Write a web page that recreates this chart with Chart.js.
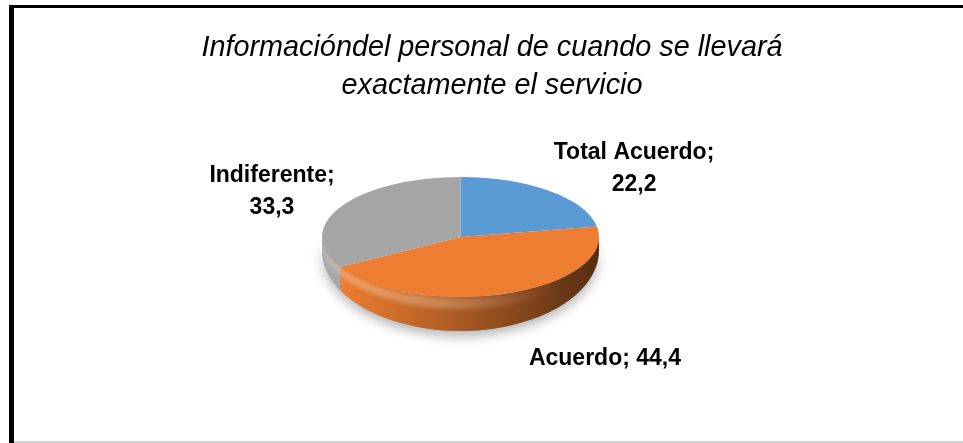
<!DOCTYPE html>
<html>
<head>
<meta charset="utf-8">
<script src="https://cdn.jsdelivr.net/npm/chart.js@4.4.0/dist/chart.umd.min.js"></script>
<style>
  html, body { margin: 0; padding: 0; background: #fff; }
  #wrap { width: 963px; height: 443px; position: relative; }
</style>
</head>
<body>
<div id="wrap"><canvas id="chart-pie" width="963" height="443"></canvas></div>
<script>
// datos del grafico
const tituloLineas = ["Informacióndel personal de cuando se llevará", "exactamente el servicio"];
const categorias = ["Total Acuerdo", "Acuerdo", "Indiferente"];
const valores = [22.2, 44.4, 33.3];

const colores = ["#5b9bd5", "#ed7d31", "#a5a5a5"];

function shade(hex, f) {
  let n = parseInt(hex.slice(1), 16);
  let r = n >> 16, g = (n >> 8) & 255, b = n & 255;
  const c = v => Math.max(0, Math.min(255, Math.round(v * f)));
  return `rgb(${c(r)}, ${c(g)}, ${c(b)})`;
}

// contorno del lado visible entre los angulos a y b
function ladoPath(ctx, x, y, r, ry, d0, d1, a, b) {
  ctx.beginPath();
  ctx.ellipse(x, y, r, ry, 0, a, b);
  ctx.ellipse(x, y + d0, r, ry + d1, 0, b, a, true);
  ctx.closePath();
}

/*
  ==================================================
  ============ PLUGIN: pastel en 3D ================
  ==================================================
*/
const pie3d = {
  id: 'pie3d',
  beforeDraw(chart) {
    const { ctx, width, height } = chart;
    ctx.save();
    ctx.fillStyle = '#fff';
    ctx.fillRect(0, 0, width, height);
    // marco
    ctx.fillStyle = '#000';
    ctx.fillRect(9, 5, 5, height - 5);
    ctx.fillRect(9, 5, width - 9, 3);
    ctx.fillStyle = '#d4d4d4';
    ctx.fillRect(14, height - 2, width - 14, 2);
    ctx.restore();
  },
  beforeDatasetsDraw(chart, args, opts) {
    const { ctx } = chart;
    const arcs = chart.getDatasetMeta(0).data;
    const { x, y, outerRadius: r } = arcs[0];
    const ry = r * opts.squash;
    const { depthSide: d0, depthFront: d1 } = opts;
    const fondo = chart.data.datasets[0].backgroundColor;

    // sombra
    ctx.save();
    ctx.shadowColor = 'rgba(0, 0, 0, 0.3)';
    ctx.shadowBlur = 12;
    ctx.shadowOffsetY = 5;
    ladoPath(ctx, x, y, r, ry, d0, d1, 0, Math.PI);
    ctx.fillStyle = '#888';
    ctx.fill();
    ctx.restore();

    // lados
    ctx.save();
    arcs.forEach((arc, i) => {
      const a = Math.max(arc.startAngle, 0), b = Math.min(arc.endAngle, Math.PI);
      if (b <= a) return;
      const grad = ctx.createLinearGradient(x - r, 0, x + r, 0);
      grad.addColorStop(0, shade(fondo[i], 1.05));
      grad.addColorStop(0.4, shade(fondo[i], 0.78));
      grad.addColorStop(1, shade(fondo[i], 0.36));
      ladoPath(ctx, x, y, r, ry, d0, d1, a, b);
      ctx.fillStyle = grad;
      ctx.fill();
    });

    // bisel claro junto al borde
    ladoPath(ctx, x, y, r, ry, d0, d1, 0, Math.PI);
    ctx.clip();
    const brillo = ctx.createLinearGradient(x - r, 0, x + r, 0);
    brillo.addColorStop(0, 'rgba(255, 225, 195, 0.4)');
    brillo.addColorStop(0.45, 'rgba(255, 225, 195, 0.28)');
    brillo.addColorStop(0.85, 'rgba(255, 225, 195, 0)');
    ctx.filter = 'blur(2px)';
    ladoPath(ctx, x, y + 1, r, ry, 3, 8, 0.05, Math.PI - 0.05);
    ctx.fillStyle = brillo;
    ctx.fill();
    ctx.filter = 'none';
    ctx.restore();

    // cara superior aplastada
    ctx.save();
    ctx.translate(x, y);
    ctx.scale(1, opts.squash);
    ctx.translate(-x, -y);
  },
  afterDatasetsDraw(chart) {
    chart.ctx.restore();
  },
  afterDraw(chart, args, opts) {
    const { ctx } = chart;
    const arcs = chart.getDatasetMeta(0).data;
    const labels = chart.data.labels;
    const data = chart.data.datasets[0].data;

    ctx.save();
    ctx.fillStyle = '#000';
    ctx.textAlign = 'center';

    // titulo
    ctx.textBaseline = 'alphabetic';
    ctx.font = 'italic 28.8px "Liberation Sans", Arial, sans-serif';
    tituloLineas.forEach((t, i) => ctx.fillText(t, opts.titleX, opts.titleY + i * opts.titleLineHeight));

    // etiquetas
    ctx.textBaseline = 'middle';
    ctx.font = 'bold 23px "Liberation Sans", Arial, sans-serif';
    arcs.forEach((arc, i) => {
      const v = data[i].toFixed(1).replace('.', ',');
      const lines = opts.wrap[i] ? [labels[i] + ';', v] : [labels[i] + '; ' + v];
      const [ox, oy] = opts.labelOffset[i];
      const cx = arc.x + ox * arc.outerRadius;
      const cy = arc.y + oy * arc.outerRadius;
      lines.forEach((t, j) => ctx.fillText(t, cx, cy + (j - (lines.length - 1) / 2) * opts.labelLineHeight));
    });
    ctx.restore();
  }
};

/** @type {HTMLCanvasElement} */
let canvasPie = document.getElementById('chart-pie').getContext('2d');

let pieChart = new Chart(canvasPie, {
  type: 'pie',
  data: {
    labels: categorias,
    datasets: [{
      data: valores,
      backgroundColor: colores,
      borderWidth: 0,
      hoverOffset: 0,
      offset: 0,
      clip: false
    }]
  },
  options: {
    responsive: false,
    animation: false,
    devicePixelRatio: 1,
    events: [],
    layout: { padding: { left: 322, right: 364, top: 98.5, bottom: 67.5 } },
    plugins: {
      legend: { display: false },
      title: { display: false },
      tooltip: { enabled: false },
      pie3d: {
        squash: 0.433,
        depthSide: 13,
        depthFront: 21,
        titleX: 492,
        titleY: 56,
        titleLineHeight: 38,
        labelLineHeight: 32,
        wrap: [true, false, true],
        labelOffset: [[1.253, -0.495], [1.043, 0.877], [-1.361, -0.325]]
      }
    }
  },
  plugins: [pie3d]
});
</script>
</body>
</html>
